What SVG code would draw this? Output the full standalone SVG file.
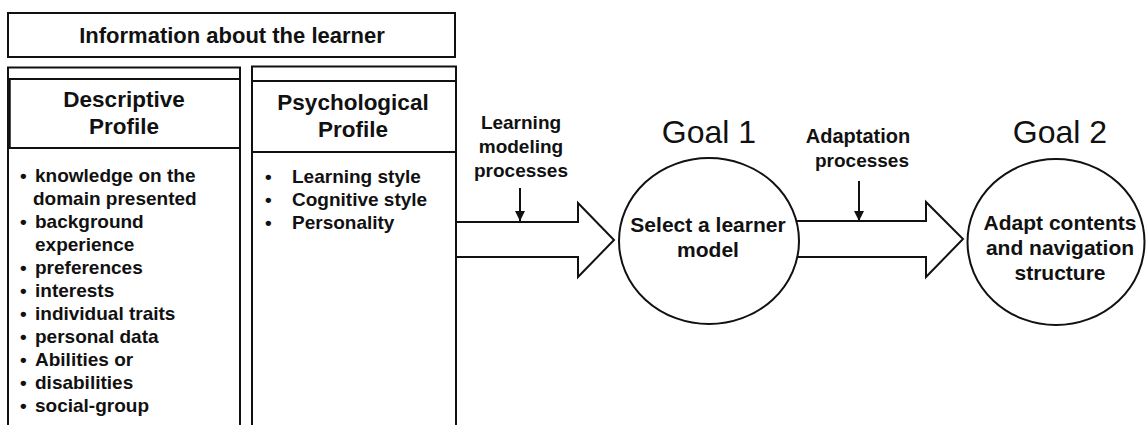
<svg xmlns="http://www.w3.org/2000/svg" width="1146" height="425" viewBox="0 0 1146 425">
<style>
  .box { fill: #ffffff; stroke: #111111; stroke-width: 2; }
  .ln { stroke: #111111; stroke-width: 2; fill: none; }
  .t { font-family: "Liberation Sans", Arial, sans-serif; fill: #111111; }
  .b { font-weight: bold; }
  .title { font-size: 22px; }
  .hdr { font-size: 22.5px; }
  .item { font-size: 19px; }
  .lbl { font-size: 19px; }
  .lbl2 { font-size: 20px; }
  .ctx { font-size: 21px; }
  .goal { font-size: 32px; font-weight: normal; }
  .mid { text-anchor: middle; }
  .fat { fill: #ffffff; stroke: #111111; stroke-width: 2; stroke-linejoin: miter; }
</style>
<defs>
  <marker id="ah" viewBox="0 0 10 10" refX="10" refY="5" markerWidth="5" markerHeight="5" orient="auto" markerUnits="strokeWidth">
    <path d="M0,0 L10,5 L0,10 z" fill="#111111"/>
  </marker>
</defs>
<rect width="1146" height="425" fill="#ffffff"/>

<g id="info-header">
  <rect class="box" x="8" y="13" width="447" height="44"/>
  <text class="t b title mid" x="232" y="43">Information about the learner</text>
</g>

<g id="descriptive-profile">
  <rect class="box" x="8" y="67.5" width="232" height="400"/>
  <line class="ln" x1="8" y1="79" x2="240" y2="79"/>
  <line class="ln" x1="8" y1="148" x2="240" y2="148"/>
  <line x1="9" y1="79" x2="9" y2="148" stroke="#111111" stroke-width="3.5"/>
  <text class="t b hdr mid" x="124" y="107">Descriptive</text>
  <text class="t b hdr mid" x="124" y="134">Profile</text>
  <g class="t b item">
    <text x="20" y="182">•</text><text x="35" y="182">knowledge on the</text>
    <text x="33" y="205">domain presented</text>
    <text x="20" y="228">•</text><text x="35" y="228">background</text>
    <text x="35" y="251">experience</text>
    <text x="20" y="274">•</text><text x="35" y="274">preferences</text>
    <text x="20" y="297">•</text><text x="35" y="297">interests</text>
    <text x="20" y="320">•</text><text x="35" y="320">individual traits</text>
    <text x="20" y="343">•</text><text x="35" y="343">personal data</text>
    <text x="20" y="366">•</text><text x="35" y="366">Abilities or</text>
    <text x="20" y="389">•</text><text x="35" y="389">disabilities</text>
    <text x="20" y="412">•</text><text x="35" y="412">social-group</text>
  </g>
</g>

<g id="psychological-profile">
  <rect class="box" x="252" y="66.5" width="204" height="400"/>
  <line class="ln" x1="252" y1="81" x2="456" y2="81"/>
  <line class="ln" x1="252" y1="152" x2="456" y2="152"/>
  <text class="t b hdr mid" x="353" y="110">Psychological</text>
  <text class="t b hdr mid" x="353" y="137">Profile</text>
  <g class="t b item">
    <text x="265" y="183">•</text><text x="292" y="183">Learning style</text>
    <text x="265" y="206">•</text><text x="292" y="206">Cognitive style</text>
    <text x="265" y="229">•</text><text x="292" y="229">Personality</text>
  </g>
</g>

<g id="connectors">
  <polygon class="fat" points="456,222 578,222 578,203 614,240 578,277 578,257 456,257"/>
  <line class="ln" x1="520" y1="188" x2="520" y2="221" marker-end="url(#ah)"/>
  <polygon class="fat" points="790,221 926,221 926,202 963,239 926,277 926,257 790,257"/>
  <line class="ln" x1="859" y1="181" x2="859" y2="221" marker-end="url(#ah)"/>
</g>

<g id="label-learning-modeling">
  <text class="t b lbl mid" x="521" y="129">Learning</text>
  <text class="t b lbl mid" x="521" y="153">modeling</text>
  <text class="t b lbl mid" x="521" y="177">processes</text>
</g>

<g id="label-adaptation">
  <text class="t b lbl2 mid" x="858" y="143">Adaptation</text>
  <text class="t b lbl mid" x="862" y="167">processes</text>
</g>

<g id="goal1">
  <text class="t goal mid" x="709" y="143">Goal 1</text>
  <ellipse class="box" cx="709" cy="241" rx="90" ry="83"/>
  <text class="t b ctx mid" x="708" y="232">Select a learner</text>
  <text class="t b ctx mid" x="708" y="257">model</text>
</g>

<g id="goal2">
  <text class="t goal mid" x="1060" y="143">Goal 2</text>
  <ellipse class="box" cx="1056" cy="242" rx="88.5" ry="83"/>
  <text class="t b ctx mid" x="1060" y="230">Adapt contents</text>
  <text class="t b ctx mid" x="1060" y="255">and navigation</text>
  <text class="t b ctx mid" x="1060" y="280">structure</text>
</g>
</svg>
